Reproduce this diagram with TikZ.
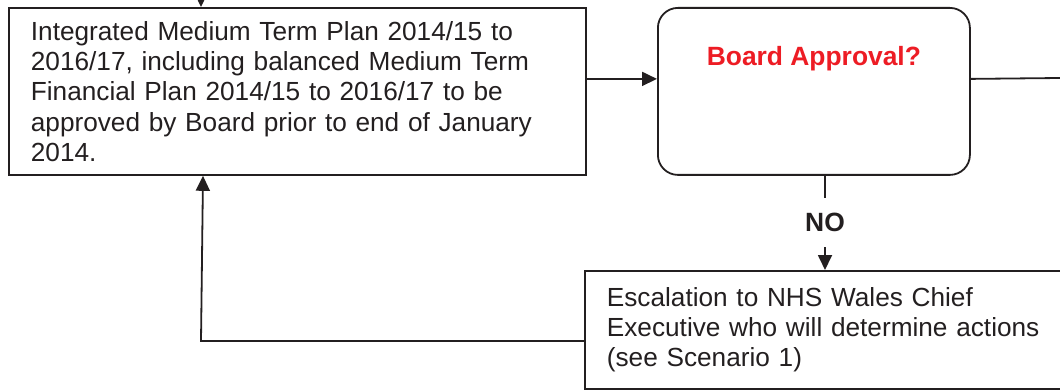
\documentclass[tikz,border=0pt]{standalone}
\usepackage{fontspec}
\setmainfont{Liberation Sans}
\usetikzlibrary{arrows.meta}
\definecolor{ink}{RGB}{35,31,32}
\definecolor{boardred}{RGB}{237,28,36}

\begin{document}
\begin{tikzpicture}[x=1pt,y=1pt,
		box/.style={draw=ink, line width=1.8pt, rectangle, anchor=north west, align=left, inner sep=0pt, text=ink, font=\fontsize{26.2}{30.3}\selectfont},
		arr/.style={draw=ink, line width=1.8pt, -{Triangle[length=15pt,width=14pt]}},
		line/.style={draw=ink, line width=1.8pt}]
		\useasboundingbox (0,0) rectangle (1060,-390);
		\clip (0,0) rectangle (1060,-390);
		\node[box, minimum width=577pt, minimum height=167pt, text width=533pt] (plan) at (8,-7) {Integrated Medium Term Plan 2014/15 to\\2016/17, including balanced Medium Term\\Financial Plan 2014/15 to 2016/17 to be\\approved by Board prior to end of January\\2014.};
		\node[box, rounded corners=20pt, minimum width=312pt, minimum height=167pt, text height=19pt, text depth=70pt, align=center, text=boardred, font=\fontsize{26.4}{30.3}\selectfont\bfseries] (approval) at (657,-7) {Board Approval?};
		\node[box, minimum width=496pt, minimum height=118pt, text width=452pt] (escal) at (584,-270) {Escalation to NHS Wales Chief\\Executive who will determine actions\\(see Scenario 1)};
		\node[text=ink, inner sep=0pt, minimum height=49pt, font=\fontsize{26.4}{30.3}\selectfont\bfseries] (no) at (825,-222.5) {NO};
		\coordinate (top) at (201,10);
		\coordinate (out) at (1060,-78);
		\coordinate (turn) at (201,-341);
		\draw[arr] (top) -- (top |- plan.north);
		\draw[arr] ([yshift=12.5pt]plan.east) -- ([yshift=12.5pt]approval.west);
		\draw[line] ([yshift=12.5pt]approval.east) -- (out);
		\draw[line] (approval.south -| no) -- (no.north);
		\draw[arr] (no.south) -- (no.south |- escal.north);
		\draw[arr] (escal.west |- turn) -- (turn) -- ([xshift=195pt]plan.south west);
	\end{tikzpicture}
\end{document}
